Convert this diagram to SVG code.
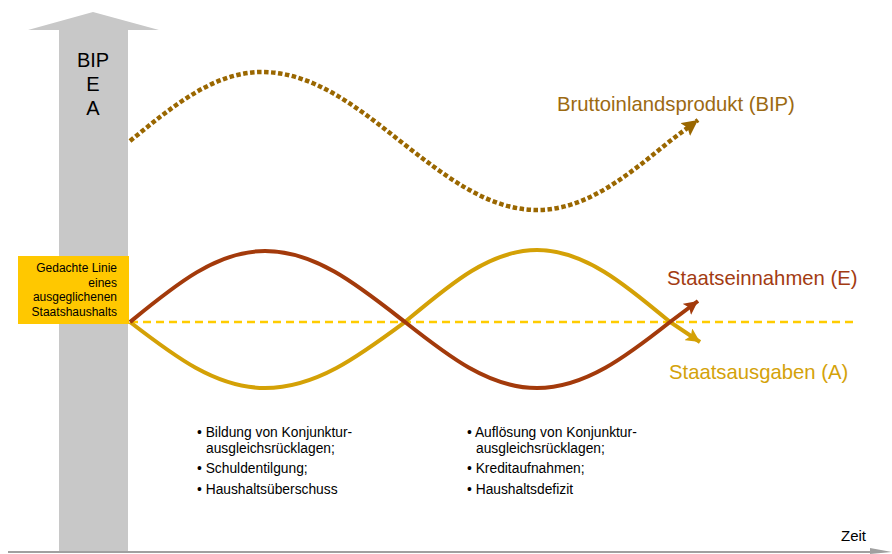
<svg xmlns="http://www.w3.org/2000/svg" width="892" height="554" viewBox="0 0 892 554">
<style>
text{font-family:"Liberation Sans",Arial,sans-serif;}
.axis{fill:#c8c8c8;}
.big{font-size:20px;}
.lbl{font-size:20.3px;}
.bul{font-size:13.8px;fill:#000;}
.box{font-size:12px;fill:#000;text-anchor:end;}
.e{fill:none;stroke:#a33a0b;stroke-width:4;}
.a{fill:none;stroke:#d4a106;stroke-width:4;}
.bip{fill:none;stroke:#9a6700;stroke-width:4.5;stroke-dasharray:4.5 2.5;}
</style>
<defs>
<marker id="mE" markerUnits="userSpaceOnUse" markerWidth="16" markerHeight="14" refX="14" refY="7" orient="auto"><path d="M0,0 L14,7 L0,14 L3,7 Z" fill="#a33a0b"/></marker>
<marker id="mA" markerUnits="userSpaceOnUse" markerWidth="16" markerHeight="14" refX="14" refY="7" orient="auto"><path d="M0,0 L14,7 L0,14 L3,7 Z" fill="#d4a106"/></marker>
<marker id="mB" markerUnits="userSpaceOnUse" markerWidth="18" markerHeight="16" refX="16" refY="8" orient="auto"><path d="M0,0 L16,8 L0,16 L3,8 Z" fill="#9a6700"/></marker>
</defs>
<rect width="892" height="554" fill="#fff"/>
<g id="y-axis">
<path class="axis" d="M59,552 L59,30 L28,30 L93,12 L159,30 L128,30 L128,552 Z"/>
<text class="big" x="93" y="67" text-anchor="middle">BIP</text>
<text class="big" x="93" y="91" text-anchor="middle">E</text>
<text class="big" x="93" y="115" text-anchor="middle">A</text>
</g>
<g id="x-axis">
<line x1="8" y1="552" x2="878" y2="552" stroke="#a0a0a0" stroke-width="2"/>
<path d="M870,548 L892,552 L870,554 Z" fill="#a0a0a0"/>
<text x="841" y="541" font-size="15">Zeit</text>
</g>
<g id="connectors">
<line x1="130" y1="322" x2="857" y2="322" stroke="#ffcc00" stroke-width="2.5" stroke-dasharray="8 5"/>
<path class="bip" marker-end="url(#mB)" d="M130,141 C173,106 214,72 262,72 C312,72 356,106 400,141 C445,176 488,210 537,210 C586,210 627,176 670,141 L698,120"/>
<path class="a" marker-end="url(#mA)" d="M130,322 C174,356 216,388 265,388 C316,388 359,356 405,322 C448,286 489,250 537,250 C585,250 627,286 670,322 L700,342"/>
<path class="e" marker-end="url(#mE)" d="M130,322 C174,286 216,251 265,251 C316,251 359,286 405,322 C448,356 489,388 537,388 C585,388 627,356 670,322 L698,301"/>
</g>
<g id="balance-box">
<rect x="18" y="256" width="111" height="68" fill="#ffc800"/>
<text class="box" x="117" y="272">Gedachte Linie</text>
<text class="box" x="117" y="286.5">eines</text>
<text class="box" x="117" y="301">ausgeglichenen</text>
<text class="box" x="117" y="315.5">Staatshaushalts</text>
</g>
<g id="labels">
<text class="lbl" x="557" y="111" fill="#9c6a12">Bruttoinlandsprodukt (BIP)</text>
<text class="lbl" x="667" y="285" fill="#a33b12">Staatseinnahmen (E)</text>
<text class="lbl" x="669" y="379" fill="#d4a20a">Staatsausgaben (A)</text>
</g>
<g id="surplus-list">
<text class="bul" x="197" y="437">• Bildung von Konjunktur-</text>
<text class="bul" x="206" y="453">ausgleichsrücklagen;</text>
<text class="bul" x="197" y="473">• Schuldentilgung;</text>
<text class="bul" x="197" y="494">• Haushaltsüberschuss</text>
</g>
<g id="deficit-list">
<text class="bul" x="467" y="437">• Auflösung von Konjunktur-</text>
<text class="bul" x="476" y="453">ausgleichsrücklagen;</text>
<text class="bul" x="467" y="473">• Kreditaufnahmen;</text>
<text class="bul" x="467" y="494">• Haushaltsdefizit</text>
</g>
</svg>
